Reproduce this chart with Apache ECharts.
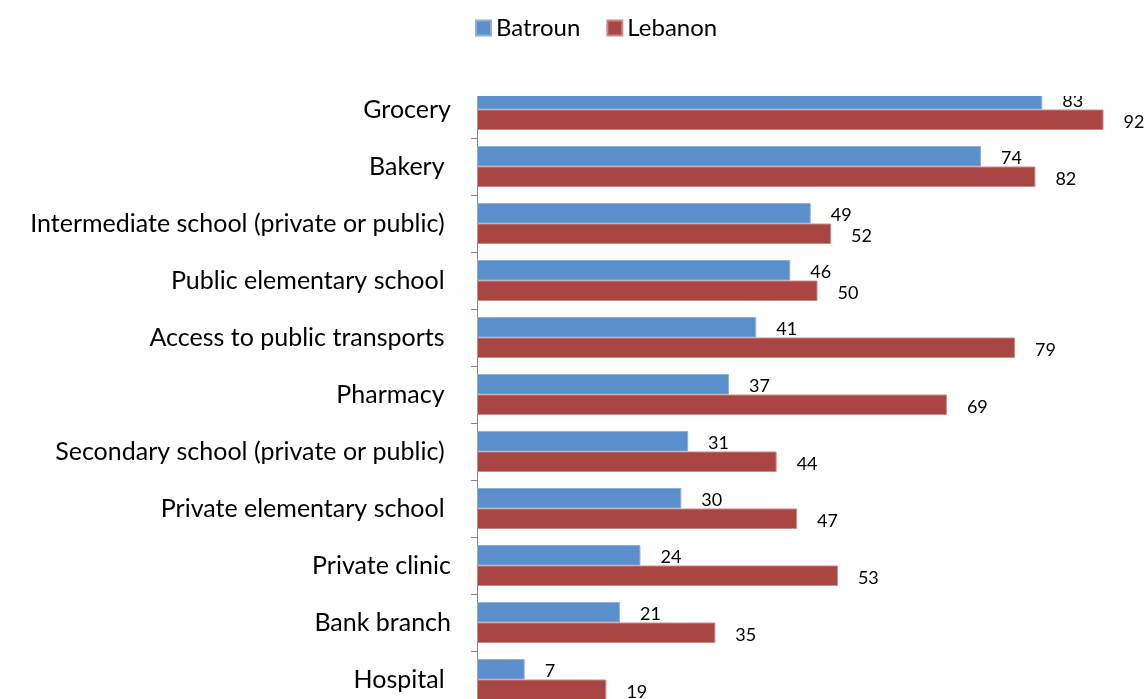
<!DOCTYPE html>
<html>
<head>
<meta charset="utf-8">
<style>
html,body{margin:0;padding:0;background:#fff;overflow:hidden;width:1148px;height:699px;}
#chart{width:1158px;height:708px;}
</style>
<script src="https://cdn.jsdelivr.net/npm/echarts@6/dist/echarts.min.js"></script>
</head>
<body>
<div id="chart"></div>
<script>
const categories = [
  "Grocery",
  "Bakery ",
  "Intermediate school (private or public) ",
  "Public elementary school ",
  "Access to public transports ",
  "Pharmacy ",
  "Secondary school (private or public) ",
  "Private elementary school ",
  "Private clinic",
  "Bank branch",
  "Hospital "
];
const batroun = [83, 74, 49, 46, 41, 37, 31, 30, 24, 21, 7];
const lebanon = [92, 82, 52, 50, 79, 69, 44, 47, 53, 35, 19];
const seriesNames = ["Batroun", "Lebanon"];

const chart = echarts.init(document.getElementById('chart'), null, {renderer: 'canvas'});
const FONT = 'Lato, "Open Sans", sans-serif';
const labelCfg = {
  show: true, position: 'right', distance: 20, offset: [0, 2],
  fontFamily: FONT, fontSize: 18, color: '#000'
};
chart.setOption({
  animation: false,
  legend: {
    top: 11, left: 470,
    icon: 'rect',
    itemWidth: 15, itemHeight: 15, itemGap: 26,
    textStyle: {fontFamily: FONT, fontSize: 24, color: '#000'},
    data: seriesNames
  },
  grid: {left: 477, right: 0, top: 81, bottom: 0, containLabel: false},
  xAxis: {
    type: 'value', min: 0, max: 100, show: false
  },
  yAxis: {
    type: 'category', inverse: true, data: categories,
    axisLine: {show: true, lineStyle: {color: '#868686', width: 1}},
    axisTick: {show: true, length: 6, lineStyle: {color: '#868686'}},
    axisLabel: {margin: 26, fontFamily: FONT, fontSize: 25, color: '#000'}
  },
  series: [
    {
      name: seriesNames[0], type: 'bar', data: batroun,
      barWidth: 20.5, barGap: '0%',
      itemStyle: {color: '#5B8FCB', borderColor: '#8DB0DD', borderWidth: 1},
      label: labelCfg
    },
    {
      name: seriesNames[1], type: 'bar', data: lebanon,
      barWidth: 20.5, barGap: '0%',
      itemStyle: {color: '#A94543', borderColor: '#C98A89', borderWidth: 1},
      label: labelCfg
    }
  ],
  graphic: [{
    type: 'rect', z: 100, left: 0, top: 55,
    shape: {width: 1158, height: 41},
    style: {fill: '#fff'}
  }]
});
</script>
</body>
</html>
